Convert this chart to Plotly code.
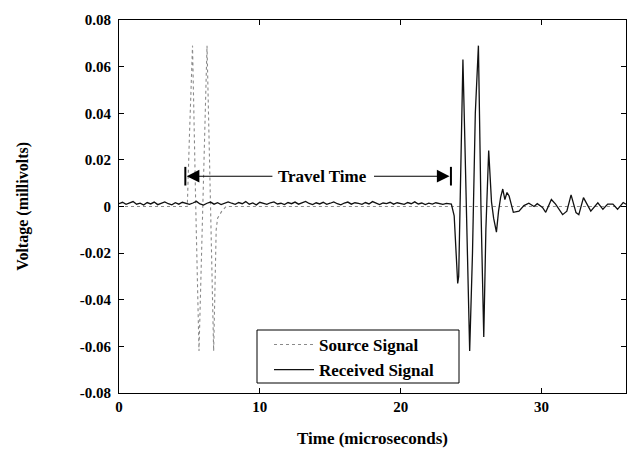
import plotly.graph_objects as go

# ---- data -------------------------------------------------------------
# Source (transmitted) pulse, microseconds / millivolts
source_t = [0.0, 4.85, 5.0, 5.22, 5.45, 5.68, 5.95, 6.25, 6.5, 6.72, 6.9, 7.0, 7.3, 7.6, 36.0]
source_v = [0.0, 0.0, 0.03, 0.069, 0.0, -0.062, 0.0, 0.069, 0.0, -0.062, -0.01, -0.005, -0.002, 0.0, 0.0]

# Received signal: quiet baseline sampled every 0.25 us before arrival
baseline_step = 0.25
baseline_mv = [
    1.2, 1.8, 0.9, 1.5, 2.1, 1.0, 1.4, 0.6, 1.7, 1.1,
    1.9, 0.8, 1.3, 2.0, 1.2, 0.7, 1.6, 1.0, 1.8, 1.3,
    0.9, 1.5, 2.2, 1.1, 0.6, 1.4, 1.9, 1.0, 1.6, 0.8,
    1.3, 2.0, 1.4, 0.9, 1.7, 1.2, 2.1, 1.0, 1.5, 0.7,
    1.8, 1.3, 0.9, 1.6, 2.0, 1.1, 1.4, 0.8, 1.7, 1.2,
    1.9, 1.0, 1.5, 2.2, 1.3, 0.8, 1.6, 1.1, 1.8, 0.9,
    1.4, 2.0, 1.2, 0.7, 1.5, 1.9, 1.0, 1.6, 1.3, 0.9,
    1.7, 1.1, 2.1, 1.4, 0.8, 1.5, 1.2, 1.8, 1.0, 1.6,
    1.3, 0.9, 1.7, 1.2, 2.0, 1.1, 1.5, 0.8, 1.4, 1.0,
    1.6, 1.2, 0.9, 1.3, 1.0,
]  # x 1e-3 mV

# Received signal: arrival and coda
arrival_t = [23.6, 23.8, 23.95, 24.05, 24.12, 24.2, 24.42, 24.55, 24.75, 24.9,
             25.1, 25.3, 25.52, 25.7, 25.9, 26.05, 26.25, 26.45, 26.6, 26.8,
             26.95, 27.1, 27.25, 27.4, 27.55, 27.7, 27.85, 28.0, 28.4, 28.75,
             29.1, 29.47, 29.7, 30.07, 30.3, 30.7, 31.0, 31.5, 31.8, 32.1,
             32.45, 32.65, 32.98, 33.3, 33.5, 34.0, 34.36, 34.7, 35.07, 35.4,
             35.8, 36.0]
arrival_v = [0.001, -0.004, -0.025, -0.033, -0.03, 0.0, 0.063, 0.03, -0.03, -0.062,
             -0.02, 0.04, 0.069, 0.0, -0.056, -0.01, 0.024, 0.002, -0.005, -0.011,
             -0.002, 0.004, 0.0075, 0.003, 0.006, 0.0045, 0.001, -0.0025, -0.002, 0.0004,
             0.0014, 0.0, 0.0012, -0.0004, -0.0025, 0.003, 0.001, -0.0035, -0.002, 0.005,
             -0.0026, -0.0035, 0.0038, 0.0, -0.002, 0.0016, -0.0012, 0.001, 0.001, -0.0012,
             0.0017, 0.001]

# Travel-time marker
travel_start = 4.71
travel_end = 23.57
travel_level = 0.013

x_ticks = [0, 10, 20, 30]
y_ticks = [-0.08, -0.06, -0.04, -0.02, 0, 0.02, 0.04, 0.06, 0.08]
y_tick_text = ["-0.08", "-0.06", "-0.04", "-0.02", "0", "0.02", "0.04", "0.06", "0.08"]

# ---- assemble received trace -----------------------------------------
received_t = [i * baseline_step for i in range(len(baseline_mv))] + arrival_t
received_v = [v / 1000.0 for v in baseline_mv] + arrival_v

FONT = "Liberation Serif"

fig = go.Figure()
fig.add_trace(go.Scatter(
    x=source_t, y=source_v, mode="lines", name="<b>Source Signal</b>",
    line=dict(color="#8a8a8a", width=1.1, dash="dot"),
))
fig.add_trace(go.Scatter(
    x=received_t, y=received_v, mode="lines", name="<b>Received Signal</b>",
    line=dict(color="#111111", width=1.3),
))

# travel-time bracket
for xb in (travel_start, travel_end):
    fig.add_shape(type="line", xref="x", yref="y",
                  x0=xb, x1=xb, y0=travel_level - 0.004, y1=travel_level + 0.004,
                  line=dict(color="black", width=2))
fig.add_annotation(x=travel_start + 0.1, y=travel_level, ax=11.0, ay=travel_level,
                   xref="x", yref="y", axref="x", ayref="y", text="",
                   showarrow=True, arrowhead=2, arrowsize=2.3, arrowwidth=1.1,
                   arrowcolor="black")
fig.add_annotation(x=travel_end - 0.1, y=travel_level, ax=18.0, ay=travel_level,
                   xref="x", yref="y", axref="x", ayref="y", text="",
                   showarrow=True, arrowhead=2, arrowsize=2.3, arrowwidth=1.1,
                   arrowcolor="black")
fig.add_annotation(x=(travel_start + travel_end) / 2 + 0.3, y=travel_level,
                   xref="x", yref="y", text="<b>Travel Time</b>", showarrow=False,
                   bgcolor="white", borderpad=1,
                   font=dict(family=FONT, size=17, color="black"))

# axis titles
fig.add_annotation(x=0.5, y=-0.121, xref="paper", yref="paper",
                   xanchor="center", yanchor="middle",
                   text="<b>Time (microseconds)</b>", showarrow=False,
                   font=dict(family=FONT, size=17, color="black"))
fig.add_annotation(x=-0.191, y=0.5, xref="paper", yref="paper",
                   xanchor="center", yanchor="middle",
                   text="<b>Voltage (millivolts)</b>", showarrow=False, textangle=-90,
                   font=dict(family=FONT, size=16, color="black"))

# legend frame
fig.add_shape(type="rect", xref="paper", yref="paper",
              x0=(257 - 119) / 507, x1=(459 - 119) / 507,
              y0=(393 - 383) / 373, y1=(393 - 330) / 373,
              line=dict(color="black", width=1), fillcolor="white", layer="above")

axis_common = dict(
    showgrid=False, zeroline=False, showline=True, linecolor="black", linewidth=1.2,
    mirror="ticks", ticks="inside", ticklen=5, tickcolor="black",
    tickfont=dict(family=FONT, size=15, color="black"),
)
fig.update_xaxes(range=[0, 36], tickvals=x_ticks,
                 ticktext=[f"<b>{t}</b>" for t in x_ticks], **axis_common)
fig.update_yaxes(range=[-0.08, 0.08], tickvals=y_ticks,
                 ticktext=[f"<b>{t}</b>" for t in y_tick_text],
                 ticklabelstandoff=4, **axis_common)

fig.update_layout(
    width=628, height=456,
    margin=dict(l=119, r=2, t=20, b=63),
    paper_bgcolor="white", plot_bgcolor="white",
    showlegend=True,
    legend=dict(x=(269 - 119) / 507, y=(393 - 327) / 373, xanchor="left", yanchor="top",
                bgcolor="rgba(0,0,0,0)", borderwidth=0,
                font=dict(family=FONT, size=17, color="black"),
                tracegroupgap=0, itemwidth=40),
)

fig.write_html("out.html")
